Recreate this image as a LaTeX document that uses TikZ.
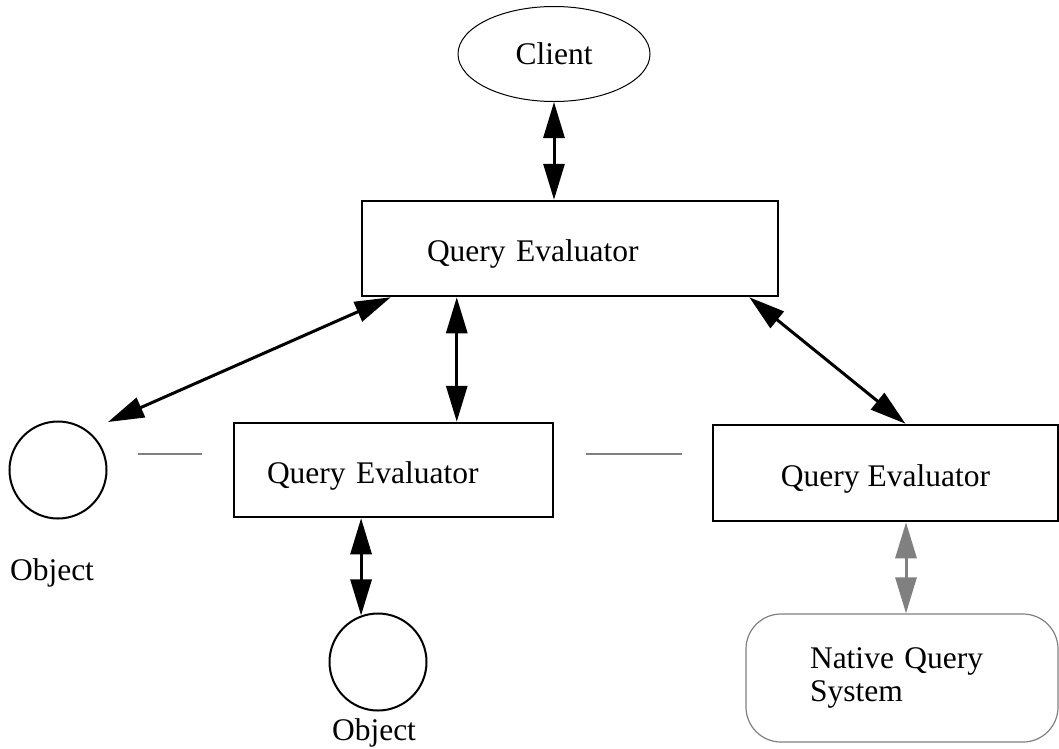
\documentclass[tikz,border=0pt]{standalone}
\usepackage{fontspec}
\setmainfont{Liberation Serif}
\usepackage{tikz}
\usetikzlibrary{calc,shapes.geometric,arrows.meta}
\tikzstyle{client} = [ellipse, draw, line width=1pt, text centered, minimum width=192pt, minimum height=95pt, inner sep=0pt]
\tikzstyle{evaluator} = [rectangle, draw, line width=2.5pt, align=left, text height=26pt, text depth=0pt, inner ysep=0pt]
\tikzstyle{object} = [circle, draw, line width=2pt, minimum size=97pt, inner sep=0pt]
\tikzstyle{native} = [rectangle, draw=gray, line width=1.2pt, rounded corners=35pt, align=left, minimum height=128pt]
\tikzstyle{caption} = [inner sep=0pt]
\tikzstyle{connector} = [line width=3pt, arrows={Triangle[length=36pt,width=21pt]-Triangle[length=36pt,width=21pt]}]
\tikzstyle{link} = [line width=2.5pt, draw=gray]
\begin{document}
\begin{tikzpicture}[x=1pt, y=-1pt, font=\fontsize{31.5}{33}\selectfont]
        \useasboundingbox (0,0) rectangle (1059,748);
        \node (client) [client] at (554,54) {Client};
        \node (qetop) [evaluator, minimum height=95pt, inner xsep=65pt, text width=286pt] at (570,248.5) {Query Evaluator};
        \node (qemid) [evaluator, minimum height=94pt, inner xsep=33pt, text width=253pt] at (393.5,470) {Query Evaluator};
        \node (qeright) [evaluator, minimum height=96pt, minimum width=345pt, text centered] at (885.5,473) {Query Evaluator};
        \node (objleft) [object] at (58,470) {};
        \node (objleftlabel) [caption] at (52,573) {Object};
        \node (objbot) [object] at (378,662) {};
        \node (objbotlabel) [caption] at (374,733) {Object};
        \node (native) [native, inner xsep=64pt, text width=184pt] at (902,678) {Native Query\\System};
        \draw [connector] (client.south) -- (client.south |- qetop.north);
        \draw [connector] ($(qetop.south west)+(30,0)$) -- ($(objleft)+(50,-48)$);
        \draw [connector] ($(qetop.south west)+(96,0)$) -- ($(qemid.north west)+(224,0)$);
        \draw [connector] ($(qetop.south east)+(-30,0)$) -- ($(qeright.north)+(20,0)$);
        \draw [connector] (qemid.south -| objbot.110) -- (objbot.110);
        \draw [connector, color=gray] ($(qeright.south -| native.north)+(4,0)$) -- ($(native.north)+(4,0)$);
        \draw [link] ($(objleft.east)+(30,-16)$) -- ($(qemid.west)+(-31,-16)$);
        \draw [link] ($(qemid.east)+(32,-16)$) -- ($(qeright.west)+(-30,-19)$);
    \end{tikzpicture}
\end{document}
